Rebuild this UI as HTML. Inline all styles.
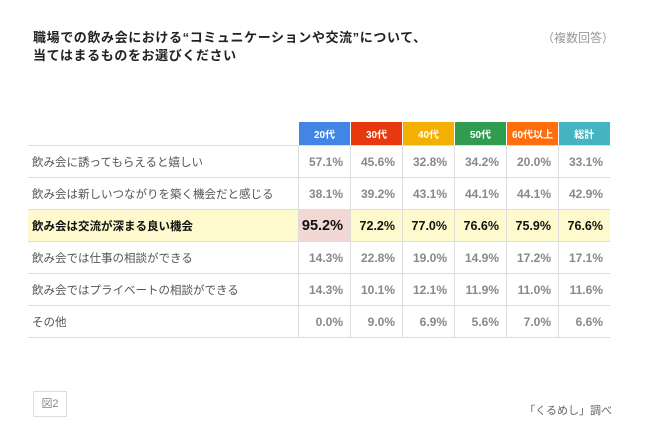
<!DOCTYPE html>
<html><head><meta charset="utf-8"><style>
body{margin:0;width:650px;height:434px;background:#fff;font-family:"Liberation Sans","Noto Sans CJK JP",sans-serif;position:relative;overflow:hidden}
.t{position:absolute;left:33px;top:29px;font-size:13px;font-weight:bold;color:#222;line-height:18px;letter-spacing:0.6px}
.m{position:absolute;right:36px;top:29px;font-size:12px;color:#999;line-height:18px}
table{position:absolute;left:28px;top:121px;border-collapse:collapse;font-size:11px;table-layout:fixed}
td,th{height:31px;padding:0;border-bottom:1px solid #ddd}
th{height:23px;color:#fff;font-size:10px;font-weight:bold;border:1px solid #fff;border-bottom:1px solid #ddd;white-space:nowrap}
td.l{width:266px;color:#555;padding-left:4px;text-align:left;font-size:11.5px}
td.v{width:51px;text-align:right;padding-right:0;color:#888;font-weight:bold;border-left:1px solid #ddd;font-size:12px}
td.v span{padding-right:7px}
tr.h td{background:#fefacd;color:#111;font-weight:bold;font-size:12.5px}
tr.h td.l{font-size:11.5px}
tr.h td.p{background:#f1d8d4;font-size:14.5px}
.fig{position:absolute;left:33px;top:391px;width:32px;height:24px;border:1px solid #ddd;font-size:11px;color:#888;text-align:center;line-height:24px}
.src{position:absolute;right:38px;top:402px;font-size:11px;color:#666}
</style></head><body>
<div class="t">職場での飲み会における“コミュニケーションや交流”について、<br>当てはまるものをお選びください</div>
<div class="m">（複数回答）</div>
<table><tbody id="tb"></tbody></table>
<div class="fig">図2</div>
<div class="src">「くるめし」調べ</div>
<script>
const groups=["20代","30代","40代","50代","60代以上","総計"];
const groupColors=["#4285e4","#e8380d","#f4b000","#2f9c4f","#ff6d0c","#45b3c0"];
const items=["飲み会に誘ってもらえると嬉しい","飲み会は新しいつながりを築く機会だと感じる","飲み会は交流が深まる良い機会","飲み会では仕事の相談ができる","飲み会ではプライベートの相談ができる","その他"];
const r1=[57.1,45.6,32.8,34.2,20.0,33.1];
const r2=[38.1,39.2,43.1,44.1,44.1,42.9];
const r3=[95.2,72.2,77.0,76.6,75.9,76.6];
const r4=[14.3,22.8,19.0,14.9,17.2,17.1];
const r5=[14.3,10.1,12.1,11.9,11.0,11.6];
const r6=[0.0,9.0,6.9,5.6,7.0,6.6];
const rows=[r1,r2,r3,r4,r5,r6];
const tb=document.getElementById('tb');
const hr=document.createElement('tr');
const e=document.createElement('th');e.style.border='none';e.style.borderBottom='1px solid #ddd';


hr.appendChild(e);
groups.forEach((g,i)=>{const th=document.createElement('th');th.textContent=g;th.style.background=groupColors[i];


hr.appendChild(th);});
tb.appendChild(hr);
rows.forEach((r,ri)=>{const tr=document.createElement('tr');if(ri===2)tr.className='h';


const l=document.createElement('td');l.className='l';l.textContent=items[ri];


tr.appendChild(l);
const mx=Math.max(...r.slice(0,5));
r.forEach((v,ci)=>{const td=document.createElement('td');td.className='v'+(ri===2&&v===mx&&ci<5?' p':'');
td.innerHTML='<span>'+v.toFixed(1)+'%</span>';


tr.appendChild(td);});
tb.appendChild(tr);});
</script>
</body></html>
